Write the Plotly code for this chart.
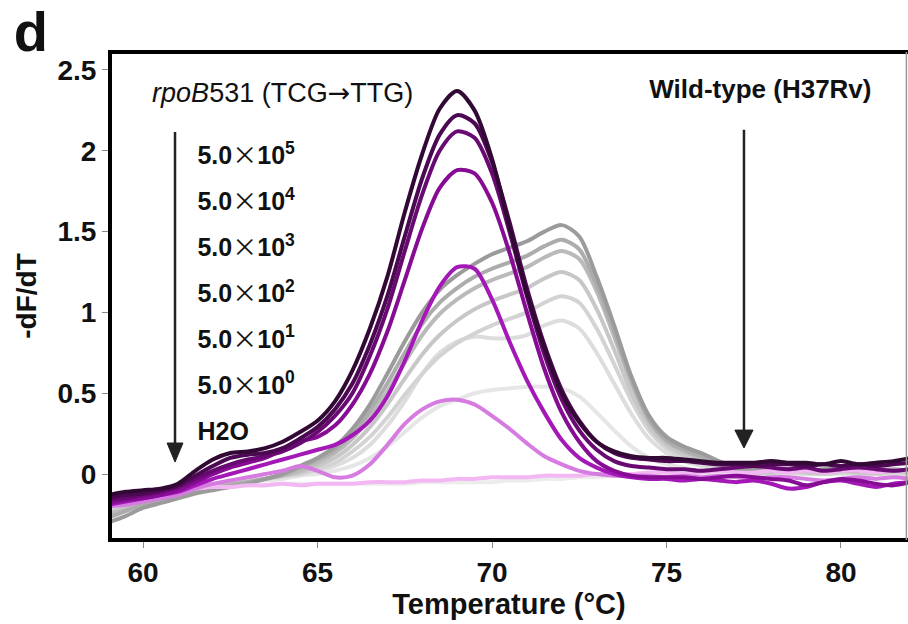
import plotly.graph_objects as go

# Melting temperature grid (°C)
temperature = [59.0, 59.5, 60.0, 60.5, 61.0, 61.5, 62.0, 62.5, 63.0, 63.5,
               64.0, 64.5, 65.0, 65.5, 66.0, 66.5, 67.0, 67.5, 68.0, 68.5,
               69.0, 69.5, 70.0, 70.5, 71.0, 71.5, 72.0, 72.5, 73.0, 73.5,
               74.0, 74.5, 75.0, 75.5, 76.0, 76.5, 77.0, 77.5, 78.0, 78.5,
               79.0, 79.5, 80.0, 80.5, 81.0, 81.5, 82.0]

# rpoB531 (TCG->TTG) mutant template, -dF/dT
mut_5e5 = [-0.13, -0.11, -0.10, -0.09, -0.06, 0.02, 0.09, 0.13, 0.14, 0.16,
           0.20, 0.26, 0.33, 0.45, 0.64, 0.90, 1.22, 1.62, 1.98, 2.26,
           2.37, 2.25, 1.95, 1.53, 1.12, 0.78, 0.50, 0.32, 0.20, 0.14,
           0.11, 0.10, 0.10, 0.09, 0.08, 0.07, 0.07, 0.07, 0.08, 0.07,
           0.07, 0.06, 0.08, 0.06, 0.07, 0.08, 0.10]
mut_5e4 = [-0.15, -0.13, -0.12, -0.10, -0.07, -0.01, 0.05, 0.10, 0.12, 0.13,
           0.16, 0.22, 0.29, 0.40, 0.56, 0.80, 1.10, 1.47, 1.83, 2.10,
           2.22, 2.17, 1.93, 1.56, 1.15, 0.80, 0.52, 0.33, 0.20, 0.13,
           0.10, 0.09, 0.08, 0.08, 0.07, 0.06, 0.06, 0.05, 0.06, 0.06,
           0.05, 0.06, 0.05, 0.06, 0.05, 0.06, 0.07]
mut_5e3 = [-0.16, -0.15, -0.13, -0.11, -0.08, -0.03, 0.02, 0.06, 0.09, 0.11,
           0.14, 0.19, 0.26, 0.36, 0.50, 0.73, 1.02, 1.38, 1.73, 2.00,
           2.12, 2.08, 1.86, 1.50, 1.10, 0.74, 0.46, 0.27, 0.15, 0.08,
           0.05, 0.04, 0.03, 0.03, 0.02, 0.03, 0.04, 0.05, 0.04, 0.03,
           0.04, 0.02, 0.03, 0.04, 0.03, 0.02, 0.03]
mut_5e2 = [-0.18, -0.16, -0.15, -0.13, -0.10, -0.05, 0.00, 0.04, 0.07, 0.10,
           0.15, 0.20, 0.23, 0.30, 0.43, 0.62, 0.88, 1.20, 1.52, 1.77,
           1.88, 1.86, 1.68, 1.37, 1.00, 0.65, 0.38, 0.20, 0.08, 0.02,
           -0.01, -0.02, -0.02, -0.02, -0.03, -0.02, -0.01, -0.02, -0.03, -0.04,
           -0.07, -0.05, -0.03, -0.04, -0.06, -0.07, -0.05]
mut_5e1 = [-0.19, -0.17, -0.15, -0.13, -0.11, -0.07, -0.03, 0.00, 0.03, 0.06,
           0.09, 0.12, 0.15, 0.18, 0.24, 0.33, 0.48, 0.70, 0.95, 1.16,
           1.28, 1.27, 1.08, 0.82, 0.58, 0.38, 0.21, 0.10, 0.04, 0.00,
           -0.02, -0.03, -0.03, -0.04, -0.03, -0.04, -0.05, -0.04, -0.06, -0.09,
           -0.08, -0.05, -0.04, -0.06, -0.08, -0.06, -0.05]
mut_5e0 = [-0.20, -0.19, -0.17, -0.15, -0.13, -0.09, -0.06, -0.04, -0.02, 0.00,
           0.02, 0.05, 0.02, -0.02, -0.01, 0.06, 0.18, 0.31, 0.40, 0.45,
           0.46, 0.43, 0.36, 0.28, 0.19, 0.11, 0.06, 0.02, 0.00, -0.01,
           -0.01, -0.01, -0.02, -0.01, -0.02, -0.01, -0.02, -0.03, -0.02, -0.02,
           -0.03, -0.04, -0.03, -0.02, -0.03, -0.02, -0.03]
mut_h2o = [-0.17, -0.15, -0.14, -0.12, -0.10, -0.09, -0.08, -0.08, -0.07, -0.07,
           -0.06, -0.07, -0.06, -0.06, -0.06, -0.05, -0.05, -0.05, -0.04, -0.04,
           -0.03, -0.03, -0.02, -0.02, -0.02, -0.01, -0.01, -0.01, 0.00, 0.00,
           0.00, 0.01, 0.01, 0.00, 0.01, 0.02, 0.01, 0.01, 0.02, 0.01,
           0.02, 0.01, 0.02, 0.02, 0.01, 0.02, 0.02]

# Wild-type (H37Rv) template, -dF/dT
wt_1 = [-0.30, -0.26, -0.21, -0.18, -0.15, -0.12, -0.10, -0.08, -0.06, -0.03,
        0.00, 0.05, 0.10, 0.17, 0.28, 0.43, 0.62, 0.82, 1.00, 1.14,
        1.23, 1.30, 1.36, 1.40, 1.44, 1.50, 1.54, 1.47, 1.22, 0.92,
        0.60, 0.36, 0.23, 0.17, 0.13, 0.08, 0.04, 0.03, 0.03, 0.03,
        0.02, 0.03, 0.03, 0.02, 0.03, 0.02, 0.03]
wt_2 = [-0.27, -0.23, -0.19, -0.16, -0.14, -0.11, -0.09, -0.07, -0.05, -0.03,
        0.00, 0.04, 0.09, 0.15, 0.25, 0.39, 0.56, 0.75, 0.93, 1.06,
        1.15, 1.22, 1.27, 1.31, 1.35, 1.41, 1.45, 1.39, 1.17, 0.88,
        0.58, 0.34, 0.21, 0.15, 0.11, 0.07, 0.03, 0.02, 0.02, 0.03,
        0.02, 0.02, 0.03, 0.02, 0.02, 0.03, 0.02]
wt_3 = [-0.25, -0.22, -0.18, -0.15, -0.13, -0.10, -0.08, -0.06, -0.05, -0.03,
        -0.01, 0.02, 0.07, 0.13, 0.22, 0.35, 0.51, 0.69, 0.86, 0.99,
        1.08, 1.15, 1.20, 1.24, 1.28, 1.34, 1.38, 1.33, 1.13, 0.85,
        0.56, 0.33, 0.20, 0.14, 0.10, 0.06, 0.03, 0.02, 0.02, 0.02,
        0.02, 0.01, 0.02, 0.02, 0.01, 0.02, 0.02]
wt_4 = [-0.24, -0.21, -0.17, -0.14, -0.12, -0.10, -0.08, -0.06, -0.05, -0.03,
        -0.01, 0.01, 0.05, 0.10, 0.18, 0.29, 0.43, 0.59, 0.74, 0.86,
        0.95, 1.02, 1.07, 1.11, 1.15, 1.21, 1.25, 1.20, 1.02, 0.77,
        0.50, 0.30, 0.18, 0.12, 0.08, 0.05, 0.02, 0.01, 0.01, 0.02,
        0.01, 0.01, 0.02, 0.01, 0.01, 0.02, 0.01]
wt_5 = [-0.22, -0.19, -0.16, -0.13, -0.11, -0.09, -0.07, -0.06, -0.04, -0.03,
        -0.01, 0.00, 0.03, 0.07, 0.14, 0.23, 0.35, 0.49, 0.62, 0.73,
        0.81, 0.87, 0.92, 0.96, 1.00, 1.06, 1.10, 1.06, 0.90, 0.68,
        0.45, 0.27, 0.16, 0.10, 0.07, 0.04, 0.02, 0.01, 0.01, 0.01,
        0.01, 0.00, 0.01, 0.01, 0.00, 0.01, 0.01]
wt_6 = [-0.21, -0.18, -0.15, -0.13, -0.11, -0.09, -0.07, -0.06, -0.05, -0.03,
        -0.02, 0.00, 0.02, 0.05, 0.10, 0.18, 0.30, 0.45, 0.62, 0.75,
        0.82, 0.85, 0.84, 0.84, 0.86, 0.92, 0.95, 0.90, 0.75, 0.56,
        0.37, 0.22, 0.13, 0.08, 0.05, 0.03, 0.01, 0.00, 0.00, 0.01,
        0.00, 0.00, 0.01, 0.00, 0.00, 0.01, 0.00]
wt_7 = [-0.20, -0.17, -0.14, -0.12, -0.10, -0.09, -0.07, -0.06, -0.05, -0.04,
        -0.03, -0.01, 0.00, 0.02, 0.05, 0.10, 0.17, 0.26, 0.35, 0.42,
        0.46, 0.50, 0.52, 0.53, 0.54, 0.54, 0.53, 0.48, 0.38, 0.27,
        0.17, 0.10, 0.06, 0.04, 0.02, 0.01, 0.00, 0.00, 0.00, 0.00,
        0.00, 0.00, 0.00, 0.00, 0.00, 0.00, 0.00]
wt_h2o = [-0.22, -0.18, -0.15, -0.13, -0.11, -0.10, -0.09, -0.08, -0.07, -0.07,
          -0.06, -0.06, -0.06, -0.06, -0.06, -0.06, -0.06, -0.06, -0.05, -0.05,
          -0.05, -0.05, -0.05, -0.04, -0.04, -0.03, -0.03, -0.02, -0.02, -0.01,
          -0.01, 0.00, 0.00, 0.00, 0.00, 0.00, 0.00, 0.00, 0.00, 0.00,
          0.00, 0.00, 0.00, 0.00, 0.00, 0.00, 0.00]

# Template copy-number labels (top to bottom)
TIMES = "<span style=\"font-family:'Noto Sans CJK JP';font-weight:normal\">×</span>"
dilution_labels = ["5.0" + TIMES + "10<sup>5</sup>", "5.0" + TIMES + "10<sup>4</sup>",
                   "5.0" + TIMES + "10<sup>3</sup>", "5.0" + TIMES + "10<sup>2</sup>",
                   "5.0" + TIMES + "10<sup>1</sup>", "5.0" + TIMES + "10<sup>0</sup>", "H2O"]
label_x = [61.56, 61.56, 61.56, 61.56, 61.56, 61.56, 61.56]
label_y = [1.955, 1.670, 1.385, 1.100, 0.821, 0.537, 0.252]

x_ticks = [60, 65, 70, 75, 80]
y_ticks = [0, 0.5, 1, 1.5, 2, 2.5]
y_tick_text = ["0", "0.5", "1", "1.5", "2", "2.5"]

wt_series = [wt_h2o, wt_7, wt_6, wt_5, wt_4, wt_3, wt_2, wt_1]
wt_colors = ["#ececec", "#e6e6e6", "#dddddd", "#d3d3d3", "#c7c7c7",
             "#bababa", "#acacac", "#9b9b9b"]
mut_series = [mut_h2o, mut_5e0, mut_5e1, mut_5e2, mut_5e3, mut_5e4, mut_5e5]
mut_colors = ["#f3b8f3", "#d67ce0", "#a318b6", "#870c94", "#690a72",
              "#4c0852", "#320834"]

FONT = "Liberation Sans, Arial, Helvetica, sans-serif"
ARROW = "<span style=\"font-family:'DejaVu Sans'\">→</span>"

fig = go.Figure()
for vals, col in zip(wt_series, wt_colors):
    fig.add_trace(go.Scatter(x=temperature, y=vals, mode="lines",
                             line=dict(color=col, width=4, shape="spline", smoothing=0.8),
                             hoverinfo="skip", showlegend=False))
for vals, col in zip(mut_series, mut_colors):
    fig.add_trace(go.Scatter(x=temperature, y=vals, mode="lines",
                             line=dict(color=col, width=4, shape="spline", smoothing=0.8),
                             hoverinfo="skip", showlegend=False))

# Dilution series labels
fig.add_trace(go.Scatter(x=label_x, y=label_y, mode="text", text=dilution_labels,
                         textposition="middle right", cliponaxis=False,
                         textfont=dict(family=FONT, size=25, color="#111", weight="bold"),
                         hoverinfo="skip", showlegend=False))
# Template headings
fig.add_trace(go.Scatter(x=[60.26], y=[2.345], mode="text",
                         text=["<i>rpoB</i>531 (TCG" + ARROW + "TTG)"],
                         textposition="middle right", cliponaxis=False,
                         textfont=dict(family=FONT, size=27, color="#111"),
                         hoverinfo="skip", showlegend=False))
fig.add_trace(go.Scatter(x=[77.69], y=[2.364], mode="text",
                         text=["Wild-type (H37Rv)"],
                         textposition="middle center", cliponaxis=False,
                         textfont=dict(family=FONT, size=26, color="#111", weight="bold"),
                         hoverinfo="skip", showlegend=False))

shapes = [
    # frame: left, top, bottom heavy rules, thin right edge
    dict(type="line", xref="paper", yref="paper", x0=0, x1=0, y0=-0.004, y1=1.004,
         line=dict(color="black", width=4)),
    dict(type="line", xref="paper", yref="paper", x0=-0.002, x1=1.0, y0=1, y1=1,
         line=dict(color="black", width=4)),
    dict(type="line", xref="paper", yref="paper", x0=-0.002, x1=1.0, y0=0, y1=0,
         line=dict(color="black", width=4)),
    dict(type="line", xref="paper", yref="paper", x0=0.998, x1=0.998, y0=0, y1=1,
         line=dict(color="#9a9a9a", width=1.5)),
    # arrows indicating decreasing template copy number
    dict(type="line", xref="x", yref="y", x0=60.917, x1=60.917, y0=2.116, y1=0.19,
         line=dict(color="#222", width=2.5)),
    dict(type="path", xref="x", yref="y", path="M 60.69,0.192 L 61.145,0.192 L 60.917,0.074 Z",
         fillcolor="#222", line=dict(color="#222", width=1)),
    dict(type="line", xref="x", yref="y", x0=77.22, x1=77.22, y0=2.13, y1=0.27,
         line=dict(color="#222", width=2.5)),
    dict(type="path", xref="x", yref="y", path="M 76.96,0.272 L 77.48,0.272 L 77.22,0.161 Z",
         fillcolor="#222", line=dict(color="#222", width=1)),
]

fig.update_layout(
    width=908, height=624,
    margin=dict(l=110, r=0, t=52, b=84),
    paper_bgcolor="white", plot_bgcolor="white",
    font=dict(family=FONT, size=24, color="#111"),
    showlegend=False,
    shapes=shapes,
    title=dict(text="d", xref="container", yref="container", x=0.034, y=0.949,
               xanchor="center", yanchor="middle",
               font=dict(family=FONT, size=56, color="#111", weight="bold")),
    xaxis=dict(range=[59.054, 81.92], tickvals=x_ticks, ticktext=[str(v) for v in x_ticks],
               ticks="outside", ticklen=7, tickwidth=1, tickcolor="#888",
               showgrid=False, zeroline=False, showline=False,
               tickfont=dict(family=FONT, size=28, color="#111", weight="bold"),
               title=dict(text="Temperature (°C)", standoff=2,
                          font=dict(family=FONT, size=29, color="#111", weight="bold"))),
    yaxis=dict(range=[-0.408, 2.611], tickvals=y_ticks, ticktext=y_tick_text,
               ticks="outside", ticklen=7, tickwidth=1, tickcolor="#888",
               showgrid=False, zeroline=False, showline=False,
               tickfont=dict(family=FONT, size=28, color="#111", weight="bold"),
               title=dict(text="-dF/dT", standoff=12,
                          font=dict(family=FONT, size=28, color="#111", weight="bold"))),
)

fig.write_html("out.html")
